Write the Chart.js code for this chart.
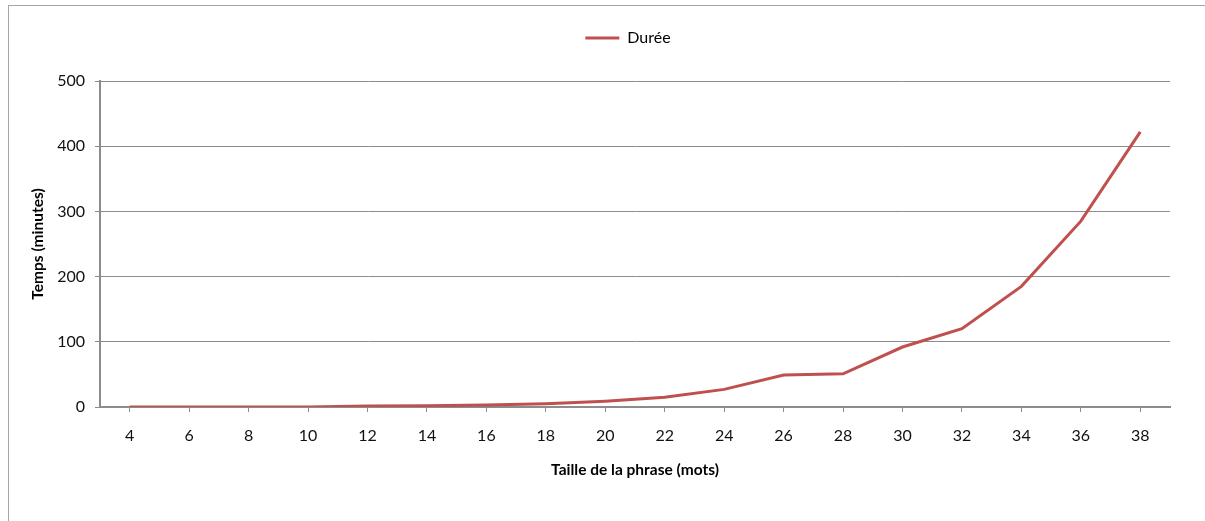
<!DOCTYPE html>
<html>
<head>
<meta charset="utf-8">
<script src="https://cdn.jsdelivr.net/npm/chart.js@4/dist/chart.umd.min.js"></script>
<style>
  html, body { margin: 0; padding: 0; background: #fff; overflow: hidden; }
  #wrap { position: relative; width: 1205px; height: 521px; }
  #frame { position: absolute; left: 8px; top: 5px; width: 1400px; height: 700px;
           border-top: 1px solid #a6a6a6; border-left: 1px solid #a6a6a6; pointer-events: none; }
  canvas { display: block; }
</style>
</head>
<body>
<div id="wrap">
  <canvas id="c" width="1205" height="521"></canvas>
  <div id="frame"></div>
</div>
<script>
const categories = ['4','6','8','10','12','14','16','18','20','22','24','26','28','30','32','34','36','38'];
const dureeValues = [0, 0, 0, 0, 1.5, 2, 3, 5, 9, 15, 27, 49, 51, 92, 120, 185, 285, 422];
const seriesName = 'Durée';
const yTitle = 'Temps (minutes)';
const xTitle = 'Taille de la phrase (mots)';

const LINE = '#C0504D';
const GRID = '#8c8c8c';
const FONT = 'Lato, "Open Sans", sans-serif';

const legendFix = {
  id: 'legendFix',
  afterInit(chart) {
    const lg = chart.legend;
    if (!lg) return;
    const orig = lg.fit;
    lg.fit = function () { orig.call(this); this.height = 81; };
  },
  afterLayout(chart) {
    const lg = chart.legend;
    if (!lg) return;
    lg.left += 43;
    lg.right += 43;
  }
};

new Chart(document.getElementById('c'), {
  type: 'line',
  data: {
    labels: categories,
    datasets: [{
      label: seriesName,
      data: dureeValues,
      borderColor: LINE,
      backgroundColor: LINE,
      borderWidth: 3,
      pointRadius: 0,
      tension: 0,
      fill: false
    }]
  },
  options: {
    responsive: false,
    animation: false,
    devicePixelRatio: 1,
    layout: { padding: { left: 0, right: 35, top: 0, bottom: 0 } },
    plugins: {
      tooltip: { enabled: false },
      legend: {
        display: true,
        position: 'top',
        align: 'center',
        labels: {
          boxWidth: 34,
          boxHeight: 3,
          padding: 30,
          color: '#000',
          font: { family: FONT, size: 16 },
          generateLabels(chart) {
            return chart.data.datasets.map((d, i) => ({
              text: d.label, fillStyle: LINE, strokeStyle: LINE, lineWidth: 0,
              hidden: false, datasetIndex: i, fontColor: '#000'
            }));
          }
        }
      }
    },
    scales: {
      x: {
        type: 'category',
        offset: true,
        afterFit(scale) { scale.height = 114; },
        grid: { display: true, drawOnChartArea: false, drawTicks: true, tickLength: 5, offset: false, color: GRID, lineWidth: 1 },
        border: { display: true, color: GRID, width: 2 },
        ticks: { color: '#111', font: { family: FONT, size: 16 }, padding: 14, maxRotation: 0, autoSkip: false },
        title: { display: true, text: xTitle, color: '#000', font: { family: FONT, size: 15.5, weight: 'bold' }, padding: { top: 0, bottom: 42 } }
      },
      y: {
        min: 0,
        max: 500,
        afterFit(scale) { scale.width = 100; },
        grid: { display: true, drawOnChartArea: true, drawTicks: true, tickLength: 5, color: GRID, lineWidth: 1 },
        border: { display: true, color: GRID, width: 2 },
        ticks: { stepSize: 100, color: '#111', font: { family: FONT, size: 16 }, padding: 10 },
        title: { display: true, text: yTitle, color: '#000', font: { family: FONT, size: 15.5, weight: 'bold' }, padding: { top: 29, bottom: 0 } }
      }
    }
  },
  plugins: [legendFix]
});
</script>
</body>
</html>
